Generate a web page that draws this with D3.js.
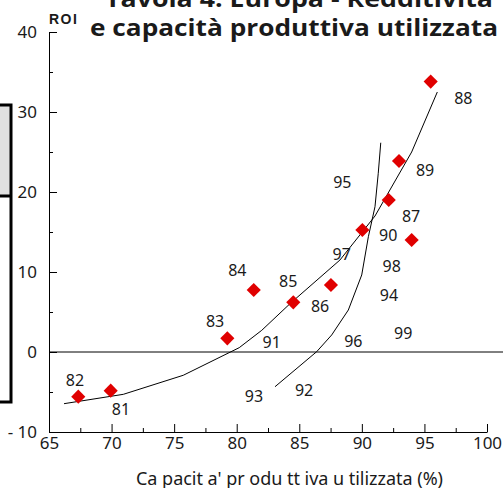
<!DOCTYPE html>
<html>
<head>
<meta charset="utf-8">
<script src="https://cdnjs.cloudflare.com/ajax/libs/d3/7.8.5/d3.min.js"></script>
<style>
	body { margin: 0; background: #fff; }
	svg { display: block; }
	text { fill: #1a1a1a; }
</style>
</head>
<body>
<div id="chart"></div>
<script>
var windowW = 503;
var windowH = 488;

// diamonds: years 81-91
var pointYears = ["81", "82", "83", "84", "85", "86", "87", "88", "89", "90", "91"];
var pointCapacity = [69.93, 67.34, 79.25, 81.36, 84.52, 87.53, 93.98, 95.5, 92.97, 90.04, 92.15];
var pointRoi = [-4.83, -5.58, 1.71, 7.75, 6.21, 8.38, 14.0, 33.8, 23.88, 15.25, 19.0];

// year labels, placed in data units
var labelText = ["81", "82", "83", "84", "85", "86", "87", "88", "89", "90",
	"91", "92", "93", "94", "95", "96", "97", "98", "99"];
var labelCapacity = [70.75, 67.08, 78.27, 80.05, 84.12, 86.66, 93.93, 98.11, 95.05, 92.11,
	82.8, 85.38, 81.38, 92.17, 88.44, 89.32, 88.39, 92.39, 93.31];
var labelRoi = [-7.16, -3.5, 3.79, 10.25, 8.79, 5.75, 16.91, 31.71, 22.75, 14.59,
	1.16, -4.84, -5.59, 7.04, 21.21, 1.38, 12.25, 10.66, 2.34];

// fitted curve 81-91
var fitA_x = [66.2, 70.94, 75.73, 80.2, 82.0, 84.3, 88.25, 91.05, 93.98, 96.03];
var fitA_y = [-6.46, -5.29, -2.91, 0.54, 2.71, 6.1, 11.5, 17.0, 25.0, 32.5];

// fitted curve 92-99
var fitB_x = [83.06, 86.39, 87.59, 88.92, 89.99, 90.52, 91.05, 91.31, 91.51];
var fitB_y = [-4.34, 0.04, 2.13, 5.25, 9.63, 14.41, 18.16, 22.34, 26.16];

var xTicks = [65, 70, 75, 80, 85, 90, 95, 100];
var xMinor = [67.5, 72.5, 77.5, 82.5, 87.5, 92.5, 97.5];
var yTicks = [-10, 0, 10, 20, 30, 40];
var yMinor = [-5, 5, 15, 25, 35];

var markColor = "#e00000";
var numFont = "'Noto Sans', 'Open Sans', sans-serif";

var x = d3.scaleLinear().domain([65, 100]).range([49, 487]);
var y = d3.scaleLinear().domain([-10, 40]).range([432, 32]);

var svg = d3.select("#chart").append("svg")
	.attr("width", windowW)
	.attr("height", windowH);

//////// left box (cut off)
svg.append("rect")
	.attr("x", -5).attr("y", 105)
	.attr("width", 16).attr("height", 91)
	.attr("fill", "#e0e0e0");
svg.append("rect")
	.attr("x", -5).attr("y", 105)
	.attr("width", 16).attr("height", 297)
	.attr("fill", "none")
	.attr("stroke", "#000")
	.attr("stroke-width", 3);
svg.append("line")
	.attr("x1", 0).attr("x2", 11)
	.attr("y1", 196).attr("y2", 196)
	.attr("stroke", "#000")
	.attr("stroke-width", 3);

//////// title
var title = svg.append("text")
	.style("font-family", "'Open Sans', 'Liberation Sans', sans-serif")
	.style("font-weight", "bold")
	.style("font-size", "23px")
	.attr("fill", "#111");
title.append("tspan")
	.attr("x", 105).attr("y", 7)
	.attr("textLength", 388).attr("lengthAdjust", "spacingAndGlyphs")
	.text("Tavola 4: Europa - Redditività");
title.append("tspan")
	.attr("x", 90).attr("y", 36)
	.attr("textLength", 408).attr("lengthAdjust", "spacingAndGlyphs")
	.text("e capacità produttiva utilizzata");

svg.append("text")
	.attr("x", 49).attr("y", 24)
	.style("font-family", "'Liberation Sans', Arial, sans-serif")
	.style("font-weight", "bold")
	.style("font-size", "14px")
	.style("letter-spacing", "1.5px")
	.text("ROI");

//////// zero line
svg.append("line")
	.attr("x1", x(65)).attr("x2", windowW)
	.attr("y1", y(0)).attr("y2", y(0))
	.attr("stroke", "#000")
	.attr("stroke-width", 1);

//////// axes
var yAxis = d3.axisLeft(y)
	.tickValues(yTicks)
	.tickSizeInner(-8)
	.tickSizeOuter(0)
	.tickPadding(12)
	.tickFormat(function(d) { return d < 0 ? "- " + Math.abs(d) : d; });

svg.append("g")
	.attr("transform", "translate(" + x(65) + ",0)")
	.call(yAxis);

svg.append("g")
	.attr("transform", "translate(" + x(65) + ",0)")
	.call(d3.axisLeft(y).tickValues(yMinor).tickSizeInner(-4).tickSizeOuter(0).tickFormat(""))
	.select(".domain").remove();

var xAxis = d3.axisBottom(x)
	.tickValues(xTicks)
	.tickSizeInner(-8)
	.tickSizeOuter(0)
	.tickPadding(5);

svg.append("g")
	.attr("transform", "translate(0," + y(-10) + ")")
	.call(xAxis);

svg.append("g")
	.attr("transform", "translate(0," + y(-10) + ")")
	.call(d3.axisBottom(x).tickValues(xMinor).tickSizeInner(-4).tickSizeOuter(0).tickFormat(""))
	.select(".domain").remove();

svg.selectAll(".tick text")
	.style("font-family", numFont)
	.style("font-size", "17px")
	.attr("fill", "#1a1a1a");

svg.selectAll(".domain, .tick line")
	.attr("stroke", "#000")
	.attr("stroke-width", 1);

svg.append("text")
	.attr("x", 136).attr("y", 485)
	.attr("textLength", 307)
	.attr("lengthAdjust", "spacing")
	.style("font-family", numFont)
	.style("font-size", "18px")
	.text("Ca pacit a' pr odu tt iva u tilizzata  (%)");

//////// fitted curves
var line = d3.line()
	.x(function(d) { return x(d[0]); })
	.y(function(d) { return y(d[1]); });

var curveA = fitA_x.map(function(d, i) { return [d, fitA_y[i]]; });
var curveB = fitB_x.map(function(d, i) { return [d, fitB_y[i]]; });

svg.selectAll(".fit")
	.data([curveA, curveB])
	.enter().append("path")
	.attr("class", "fit")
	.attr("d", line)
	.attr("fill", "none")
	.attr("stroke", "#000")
	.attr("stroke-width", 1);

//////// diamonds
var points = pointYears.map(function(d, i) {
	return { year: d, cap: pointCapacity[i], roi: pointRoi[i] };
});

svg.selectAll(".pt")
	.data(points)
	.enter().append("path")
	.attr("class", "pt")
	.attr("d", d3.symbol().type(d3.symbolSquare).size(100))
	.attr("transform", function(d) {
		return "translate(" + x(d.cap) + "," + y(d.roi) + ") rotate(45)";
	})
	.attr("fill", markColor);

//////// year labels
var labels = labelText.map(function(d, i) {
	return { text: d, cap: labelCapacity[i], roi: labelRoi[i] };
});

svg.selectAll(".yearLabel")
	.data(labels)
	.enter().append("text")
	.attr("class", "yearLabel")
	.attr("x", function(d) { return x(d.cap); })
	.attr("y", function(d) { return y(d.roi); })
	.attr("dy", "0.36em")
	.attr("text-anchor", "middle")
	.style("font-family", numFont)
	.style("font-size", "16px")
	.text(function(d) { return d.text; });
</script>
</body>
</html>
